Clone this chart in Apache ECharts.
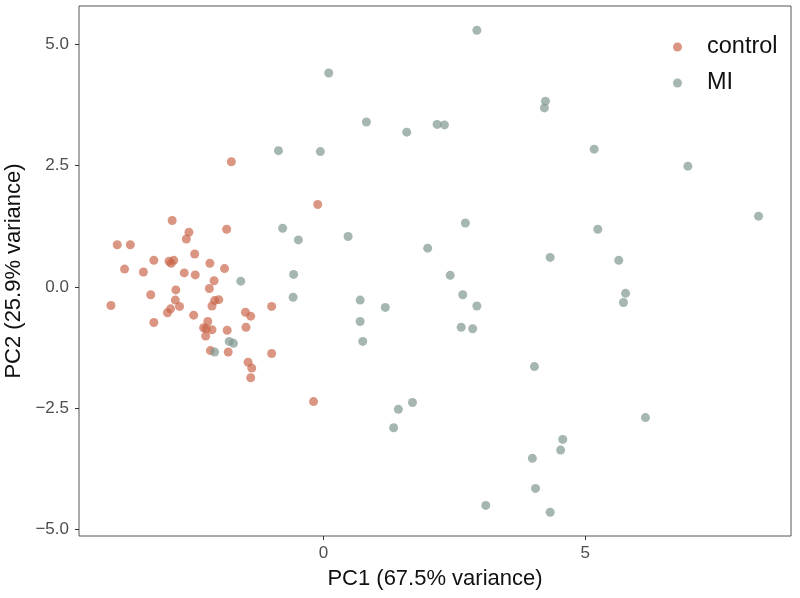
<!DOCTYPE html>
<html>
<head>
<meta charset="utf-8">
<script src="https://cdn.jsdelivr.net/npm/echarts@6/dist/echarts.min.js"></script>
<style>html,body{margin:0;padding:0;background:#fff}#c{width:800px;height:598px}</style>
</head>
<body>
<div id="c"></div>
<script>
var seriesNames = ['control', 'MI'];
var controlX = [-1.76,-0.11,-2.89,-1.85,-2.57,-2.62,-3.94,-3.69,-2.46,-3.24,-2.95,-2.86,-2.91,-3.80,-3.44,-2.17,-2.66,-2.45,-1.89,-2.09,-2.18,-2.82,-3.30,-4.06,-2.83,-2.75,-2.92,-2.98,-3.24,-2.48,-2.13,-2.08,-2.00,-1.49,-1.39,-0.99,-2.21,-2.29,-2.24,-2.13,-2.25,-1.84,-1.48,-2.16,-1.82,-0.99,-1.44,-1.37,-1.39,-0.19];
var controlY = [2.58,1.70,1.37,1.19,1.13,0.99,0.87,0.87,0.68,0.55,0.53,0.55,0.49,0.37,0.31,0.49,0.29,0.25,0.38,0.13,-0.03,-0.06,-0.16,-0.38,-0.27,-0.40,-0.45,-0.53,-0.73,-0.58,-0.39,-0.28,-0.26,-0.52,-0.60,-0.40,-0.71,-0.84,-0.86,-0.88,-1.01,-0.89,-0.83,-1.31,-1.34,-1.37,-1.55,-1.67,-1.87,-2.36];
var miX = [2.93,0.10,0.82,-0.86,-0.06,4.24,4.22,2.17,2.31,1.59,5.17,6.96,8.31,2.71,5.24,0.47,-0.78,-0.48,1.99,4.33,5.64,2.42,-0.57,-1.58,2.66,5.77,-0.58,0.70,5.73,2.93,1.18,0.70,2.63,2.85,0.75,-1.80,-1.72,-2.08,4.03,1.70,1.43,1.34,6.15,4.57,4.53,3.99,4.05,3.10,4.33];
var miY = [5.29,4.41,3.40,2.81,2.79,3.83,3.69,3.35,3.34,3.19,2.84,2.49,1.46,1.32,1.19,1.04,1.21,0.97,0.80,0.61,0.55,0.24,0.26,0.12,-0.16,-0.13,-0.21,-0.27,-0.32,-0.39,-0.42,-0.71,-0.83,-0.86,-1.12,-1.12,-1.16,-1.34,-1.64,-2.38,-2.52,-2.90,-2.69,-3.14,-3.36,-3.53,-4.15,-4.50,-4.64];
var xTicks = [0, 5];
var yTicks = [-5, -2.5, 0, 2.5, 5];
var xTitle = 'PC1 (67.5% variance)';
var yTitle = 'PC2 (25.9% variance)';

function pairs(xs, ys) { return xs.map(function (x, i) { return [x, ys[i]]; }); }
function minus(s) { return String(s).replace('-', '\u2212'); }

var font = '"Liberation Sans", Arial, sans-serif';
var chart = echarts.init(document.getElementById('c'), null, { renderer: 'canvas' });
chart.setOption({
  animation: false,
  backgroundColor: '#ffffff',
  textStyle: { fontFamily: font },
  grid: { left: 79, right: 9, top: 6, bottom: 62, show: true, borderColor: '#555555', borderWidth: 1,
          backgroundColor: 'transparent', containLabel: false, outerBoundsMode: 'none' },
  legend: {
    orient: 'vertical', left: 668, top: 28.5,
    icon: 'circle', itemWidth: 9, itemHeight: 9, itemGap: 9,
    textStyle: { fontSize: 23.5, color: '#111', fontFamily: font, lineHeight: 27, padding: [0, 0, 0, 20] },
    data: seriesNames
  },
  xAxis: {
    type: 'value', min: -4.67, max: 8.93,
    name: xTitle, nameLocation: 'middle', nameGap: 32,
    nameTextStyle: { fontSize: 22, color: '#111', fontFamily: font },
    axisLine: { show: false, onZero: false },
    splitLine: { show: false },
    axisTick: { show: true, length: 4, lineStyle: { color: '#333' }, customValues: xTicks },
    axisLabel: { fontSize: 17, color: '#4d4d4d', margin: 9, customValues: xTicks, formatter: function (v) { return minus(v); } }
  },
  yAxis: {
    type: 'value', min: -5.13, max: 5.79,
    name: yTitle, nameLocation: 'middle', nameGap: 51, nameRotate: 90,
    nameTextStyle: { fontSize: 22, color: '#111', fontFamily: font },
    axisLine: { show: false, onZero: false },
    splitLine: { show: false },
    axisTick: { show: true, length: 4, lineStyle: { color: '#333' }, customValues: yTicks },
    axisLabel: { fontSize: 17, color: '#4d4d4d', margin: 10, customValues: yTicks, formatter: function (v) { return minus(v.toFixed(1)); } }
  },
  series: [
    { name: seriesNames[0], type: 'scatter', symbolSize: 9, data: pairs(controlX, controlY),
      itemStyle: { color: 'rgb(200,100,72)', opacity: 0.68 } },
    { name: seriesNames[1], type: 'scatter', symbolSize: 9, data: pairs(miX, miY),
      itemStyle: { color: 'rgb(128,152,145)', opacity: 0.7 } }
  ]
});
</script>
</body>
</html>
